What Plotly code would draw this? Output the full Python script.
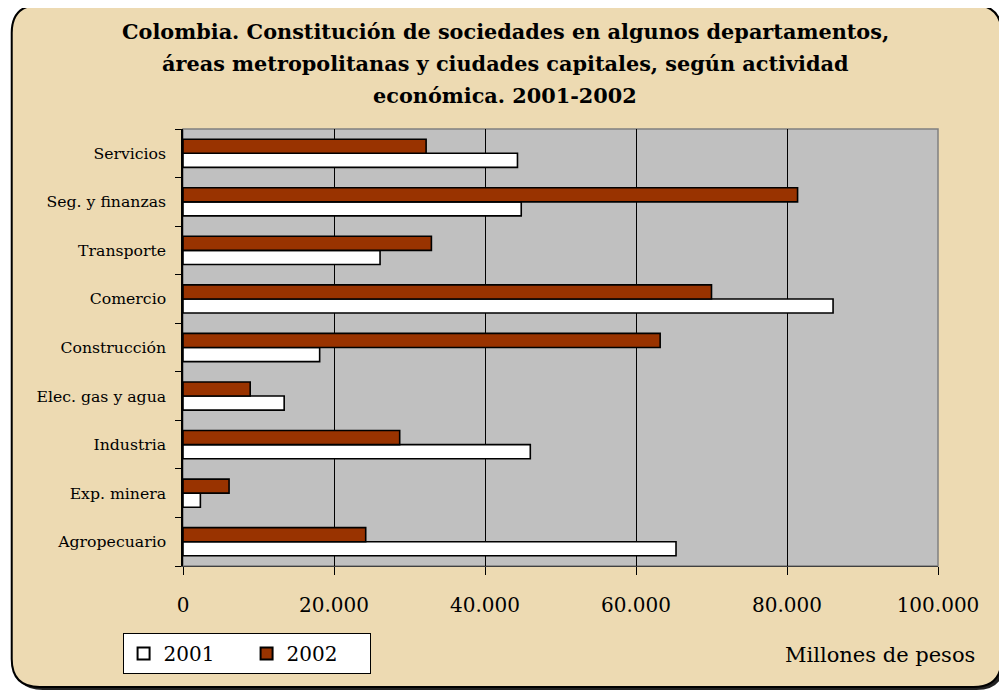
import plotly.graph_objects as go

# categories listed bottom -> top, as they appear on the axis
categorias = ['Agropecuario', 'Exp. minera', 'Industria', 'Elec. gas y agua',
              'Construcción', 'Comercio', 'Transporte', 'Seg. y finanzas',
              'Servicios']
valores_2001 = [65300, 2300, 46000, 13400, 18100, 86100, 26100, 44800, 44300]
valores_2002 = [24200, 6100, 28700, 8900, 63200, 70000, 32900, 81400, 32200]
x_ticks = [0, 20000, 40000, 60000, 80000, 100000]
x_tick_labels = ['0', '20.000', '40.000', '60.000', '80.000', '100.000']
titulo = ['Colombia. Constitución de sociedades en algunos departamentos,',
          'áreas metropolitanas y ciudades capitales, según actividad',
          'económica. 2001-2002']

# the page puts the figure 8px in from the top-left corner (body margin)
OFF = 8
W, H = 1007 - OFF, 691 - OFF
L, R, T, B = 182.5 - OFF, 938.5 - OFF, 129 - OFF, 566 - OFF   # plot area

SERIF = 'DejaVu Serif, serif'
PAPEL = '#EDDAB2'
GRIS = '#C0C0C0'
ROJO = '#993300'


def px_x(px):
    # screen pixel -> paper coordinate
    return (px - OFF - L) / (R - L)


def px_y(py):
    return (B - (py - OFF)) / (B - T)


def rounded_path(x0, y0, x1, y1, r):
    pts = [
        f"M {px_x(x0 + r)} {px_y(y0)}",
        f"L {px_x(x1 - r)} {px_y(y0)}",
        f"Q {px_x(x1)} {px_y(y0)} {px_x(x1)} {px_y(y0 + r)}",
        f"L {px_x(x1)} {px_y(y1 - r)}",
        f"Q {px_x(x1)} {px_y(y1)} {px_x(x1 - r)} {px_y(y1)}",
        f"L {px_x(x0 + r)} {px_y(y1)}",
        f"Q {px_x(x0)} {px_y(y1)} {px_x(x0)} {px_y(y1 - r)}",
        f"L {px_x(x0)} {px_y(y0 + r)}",
        f"Q {px_x(x0)} {px_y(y0)} {px_x(x0 + r)} {px_y(y0)}",
        "Z",
    ]
    return ' '.join(pts)


fig = go.Figure()

fig.add_trace(go.Bar(
    y=categorias, x=valores_2001, orientation='h', name='2001',
    marker=dict(color='white', line=dict(color='black', width=1.6)),
))
fig.add_trace(go.Bar(
    y=categorias, x=valores_2002, orientation='h', name='2002',
    marker=dict(color=ROJO, line=dict(color='black', width=1.6)),
))

shapes = [
    # shadow + parchment frame
    dict(type='path', xref='paper', yref='paper', layer='below',
         path=rounded_path(14, 8, 1005, 690, 28),
         fillcolor='#222222', line=dict(width=0)),
    dict(type='path', xref='paper', yref='paper', layer='below',
         path=rounded_path(11, 5, 1002, 687, 28),
         fillcolor=PAPEL, line=dict(color='black', width=2)),
    # gray plot area
    dict(type='rect', xref='paper', yref='paper', layer='below',
         x0=0, x1=1, y0=0, y1=1, fillcolor=GRIS,
         line=dict(color='#808080', width=1.5)),
]

# title lines as separate annotations, to get the wide line spacing
annotations = []
for linea, ypx in zip(titulo, [32, 63, 95]):
    annotations.append(dict(
        text=f'<b>{linea}</b>', xref='paper', yref='paper',
        x=px_x(505), y=px_y(ypx), xanchor='center', yanchor='middle',
        showarrow=False, font=dict(family=SERIF, size=20.8),
    ))
annotations.append(dict(
    text='Millones de pesos', xref='paper', yref='paper',
    x=px_x(978), y=px_y(655), xanchor='right', yanchor='middle',
    showarrow=False, font=dict(family=SERIF, size=21),
))

fig.update_layout(
    autosize=False, width=W, height=H,
    margin=dict(l=L, r=W - R, t=T, b=H - B),
    paper_bgcolor='white', plot_bgcolor=GRIS,
    barmode='group', bargap=0.42, bargroupgap=0,
    shapes=shapes,
    annotations=annotations,
    font=dict(family=SERIF, color='black'),
    xaxis=dict(
        range=[0, 100000], tickvals=x_ticks, ticktext=x_tick_labels,
        showgrid=True, gridcolor='black', gridwidth=1,
        zeroline=False, showline=True, linecolor='#404040', linewidth=1,
        ticks='outside', ticklen=8, tickcolor='black',
        tickfont=dict(family=SERIF, size=20),
        ticklabelstandoff=13,
    ),
    yaxis=dict(
        type='category', categoryorder='array', categoryarray=categorias,
        showgrid=False, zeroline=False,
        showline=True, linecolor='black', linewidth=1.5,
        ticks='outside', ticklen=6, tickcolor='black', tickson='boundaries',
        tickfont=dict(family=SERIF, size=15.7),
        ticklabelstandoff=12,
    ),
    legend=dict(
        orientation='h', x=px_x(122), y=px_y(633),
        xanchor='left', yanchor='top',
        bgcolor='white', bordercolor='black', borderwidth=1,
        font=dict(family=SERIF, size=20),
        entrywidth=78, itemsizing='constant',
    ),
)

fig.write_html("out.html")
